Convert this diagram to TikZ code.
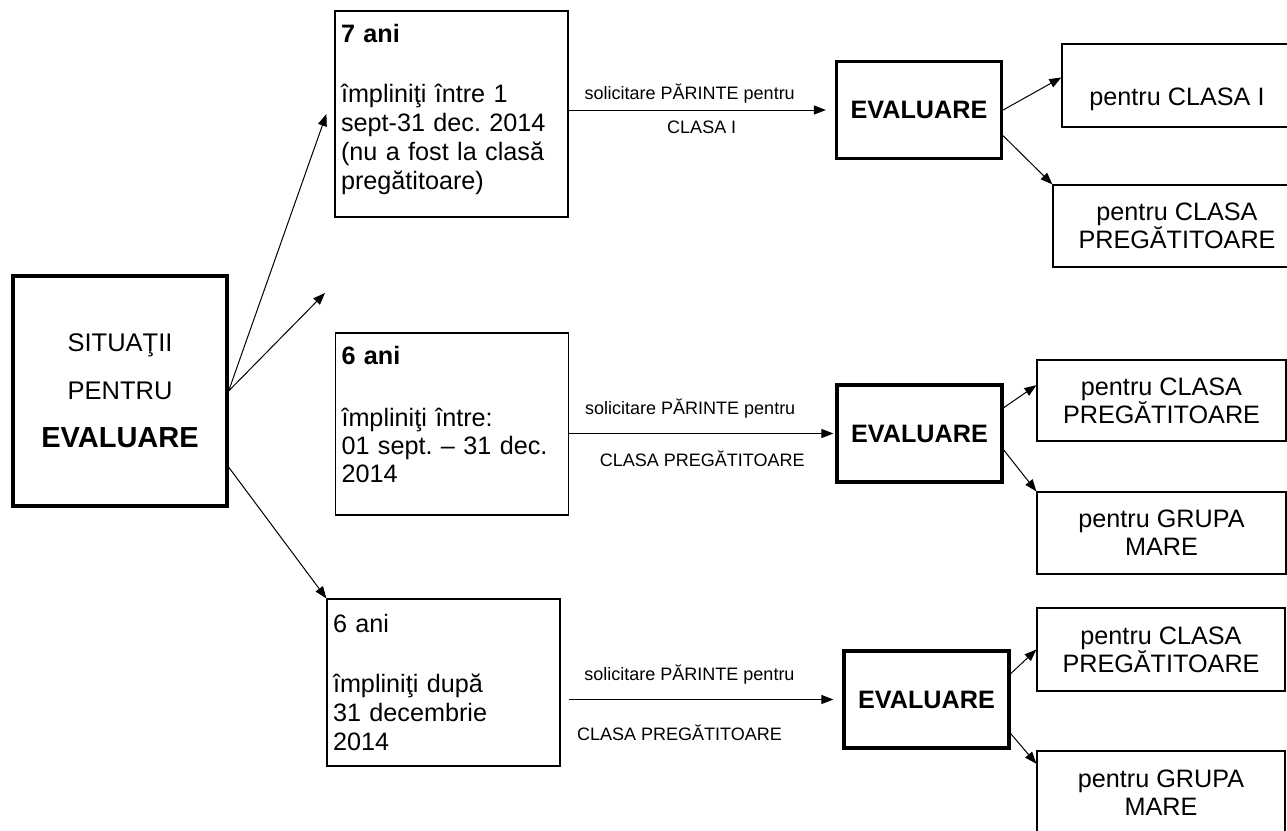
\documentclass[tikz,border=0pt]{standalone}
\usepackage{fontspec}
\setmainfont{Liberation Sans}
\frenchspacing
\usetikzlibrary{arrows.meta}

\begin{document}
\begin{tikzpicture}[
    x = 0.5pt, y = -0.5pt,
    every node/.style = {font=\fontsize{12.6}{14.5}\selectfont},
    thinbox/.style = {draw, line width=0.6pt},
    age/.style = {thinbox, text width=110.5pt, inner xsep=3pt, align=left},
    eval/.style = {draw, line width=1.6pt, minimum width=82.5pt, minimum height=48.5pt, font=\fontsize{12.6}{14.5}\selectfont\bfseries},
    result/.style = {thinbox, align=center, font=\fontsize{12.6}{14}\selectfont},
    req/.style = {midway, font=\fontsize{9}{11}\selectfont},
    arr/.style = {-{Triangle[length=6pt, width=4.5pt]}, line width=0.5pt},
]
    \useasboundingbox (0,0) rectangle (1287,831);
    % Nœud de départ
    \node[draw, line width=1.6pt, minimum width=107pt, minimum height=115pt, align=center, font=\fontsize{12.75}{24}\selectfont] (sit) at (120,391)
        {SITUAŢII\\ PENTRU\\ {\fontsize{14.5}{24}\selectfont\bfseries EVALUARE}};
    \coordinate (gap) at (325,293);
    % Les trois situations d'âge
    \node[age, minimum height=103pt, text depth=81pt] (a7) at (451.5,114)
        {\textbf{7 ani}\\[15.5pt] împliniţi între 1\\ sept-31 dec. 2014\\ (nu a fost la clasă\\ pregătitoare)};
    \node[age, minimum height=91pt, text depth=69pt, font=\fontsize{12.6}{14}\selectfont] (b6) at (452,424)
        {\textbf{6 ani}\\[17pt] împliniţi între:\\ 01 sept. – 31 dec.\\ 2014};
    \node[age, minimum height=83.5pt] (c6) at (443.5,682.5)
        {6 ani\\[15.5pt] împliniţi după\\ 31 decembrie\\ 2014};
    % Évaluations
    \foreach \n/\x/\y in {1/919/110, 2/919.5/433.5, 3/926.5/699.5}
        \node[eval] (ev\n) at (\x,\y) {EVALUARE};
    % Résultats possibles
    \begin{scope}[every node/.append style={result}]
        \node[minimum width=115pt, minimum height=41.5pt, text height=20pt, text depth=0pt] (r1a) at (1177,85.5) {pentru CLASA I};
        \node[minimum width=124pt, minimum height=41pt] (r1b) at (1177,226) {pentru CLASA\\ PREGĂTITOARE};
        \node[minimum width=124.5pt, minimum height=40.5pt] (r2a) at (1161.5,400.5) {pentru CLASA\\ PREGĂTITOARE};
        \node[minimum width=124.5pt, minimum height=41pt] (r2b) at (1161.5,533) {pentru GRUPA\\ MARE};
        \node[minimum width=124pt, minimum height=41.5pt] (r3a) at (1161,649.5) {pentru CLASA\\ PREGĂTITOARE};
        \node[minimum width=124pt, minimum height=41.5pt] (r3b) at (1161,792.5) {pentru GRUPA\\ MARE};
    \end{scope}
    % Flèches
    \draw[arr] (sit.east) -- ([xshift=-4pt]a7.west);
    \draw[arr] (sit.east) -- (gap);
    \draw[arr] (sit.-35) -- (c6.north west);
    \draw[arr, shorten >=4.5pt] (a7.east |- ev1.west) -- (ev1.west)
        node[req, xshift=-6pt, yshift=8pt] {solicitare PĂRINTE pentru}
        node[req, yshift=-8.5pt] {CLASA I};
    \draw[arr, shorten >=1pt] (b6.east |- ev2.west) -- (ev2.west)
        node[req, xshift=-6pt, yshift=12.5pt] {solicitare PĂRINTE pentru}
        node[req, yshift=-12.5pt] {CLASA PREGĂTITOARE};
    \draw[arr, shorten <=4pt, shorten >=4.5pt] (c6.east |- ev3.west) -- (ev3.west)
        node[req, xshift=-6pt, yshift=12.5pt] {solicitare PĂRINTE pentru}
        node[req, xshift=-11pt, yshift=-16.5pt] {CLASA PREGĂTITOARE};
    \draw[arr] (ev1.east) -- (r1a.176);
    \draw[arr] (ev1.-17) -- (r1b.north west);
    \draw[arr] (ev2.17) -- (r2a.173);
    \draw[arr] (ev2.-11) -- (r2b.north west);
    \draw[arr] (ev3.17) -- (r3a.west);
    \draw[arr] (ev3.-22) -- (r3b.167);
\end{tikzpicture}
\end{document}
